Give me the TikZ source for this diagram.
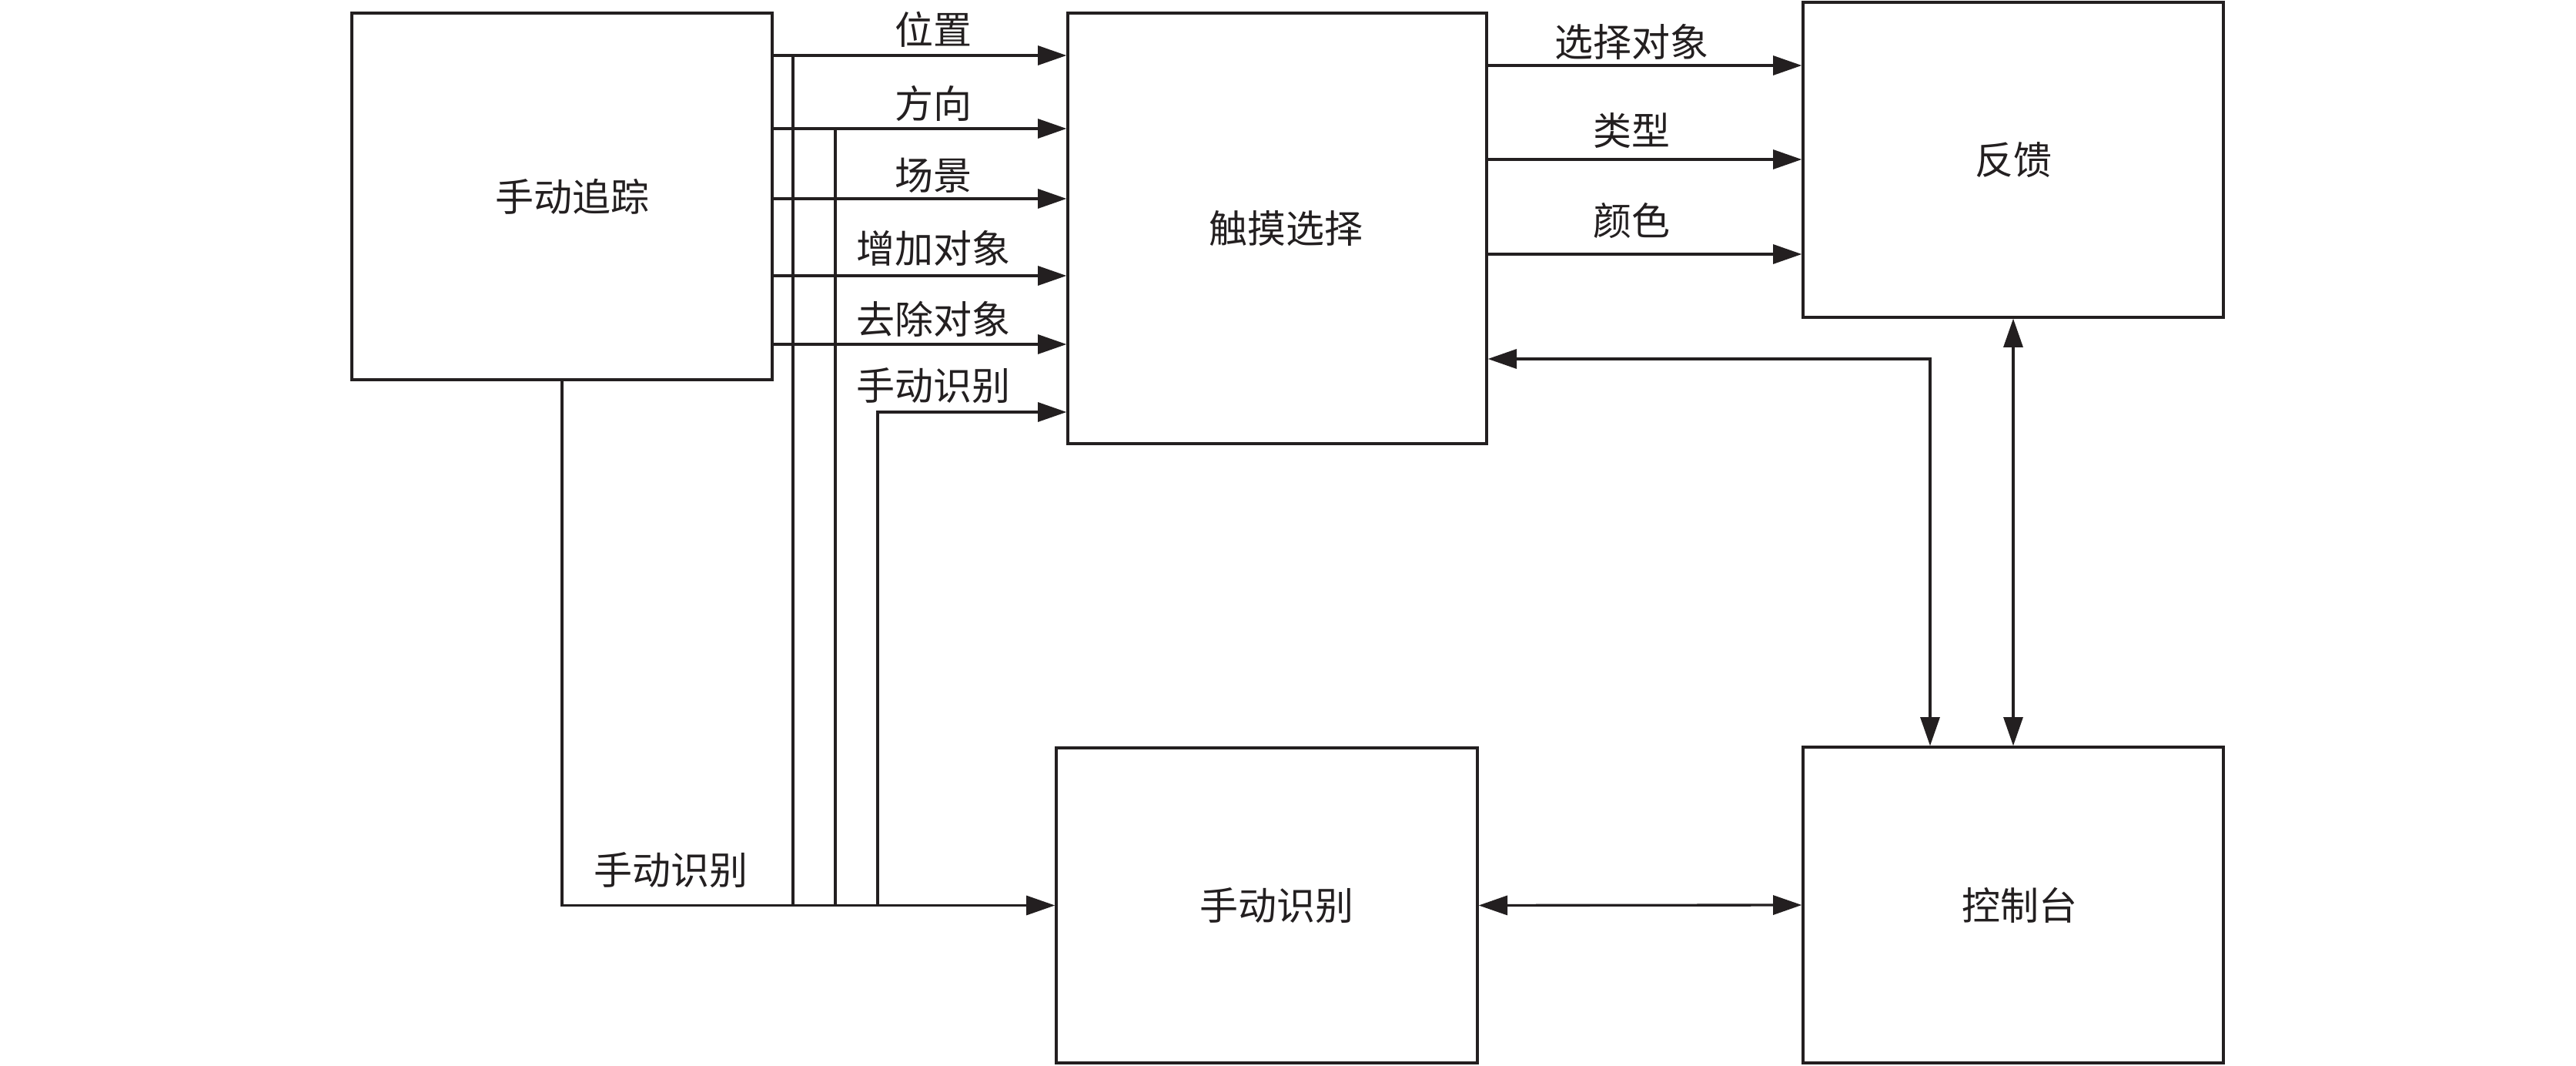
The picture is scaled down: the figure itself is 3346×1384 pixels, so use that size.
\documentclass[tikz,border=0pt]{standalone}
\usepackage{fontspec}
\newfontfamily\cjk{Noto Sans CJK SC}
\usetikzlibrary{arrows.meta}
\definecolor{ink}{HTML}{231F20}
\tikzset{
  box/.style={draw=ink, line width=1pt, rectangle, inner sep=0pt, text=ink, font=\cjk\fontsize{15}{18}\selectfont},
  lab/.style={inner sep=0pt, text=ink, font=\cjk\fontsize{15}{18}\selectfont},
  wire/.style={draw=ink, line width=1pt},
  arr/.style={wire, -{Triangle[length=11.2pt,width=7.5pt]}},
  darr/.style={wire, {Triangle[length=11.2pt,width=7.5pt]}-{Triangle[length=11.2pt,width=7.5pt]}}
}
\begin{document}
\begin{tikzpicture}[x=0.3pt,y=-0.3pt]
\fill[white] (0,0) rectangle (3346,1384);
\useasboundingbox (0,0) rectangle (3346,1384);

% boxes
\node[box, minimum width=163.8pt, minimum height=142.8pt] (track) at (730,255) {\hspace*{8pt}手动追踪};
\node[box, minimum width=163.2pt, minimum height=167.7pt] (touch) at (1659,296.5) {\hspace*{7pt}触摸选择};
\node[box, minimum width=163.8pt, minimum height=122.7pt] (fb) at (2615,207.5) {反馈};
\node[box, minimum width=164.1pt, minimum height=122.7pt] (rec) at (1645.5,1175.5) {\hspace*{7.5pt}手动识别};
\node[box, minimum width=163.8pt, minimum height=123pt] (con) at (2615,1175) {\hspace*{5pt}控制台};

% helper coordinates
\coordinate (y1) at (0,72);
\coordinate (y2) at (0,167);
\coordinate (y3) at (0,258);
\coordinate (y4) at (0,358);
\coordinate (y5) at (0,447);
\coordinate (y6) at (0,535);
\coordinate (v1) at (1030,0);
\coordinate (v2) at (1085,0);
\coordinate (v3) at (1140,0);
\coordinate (r1) at (0,85);
\coordinate (r2) at (0,207);
\coordinate (r3) at (0,330);
\coordinate (yf) at (0,466);
\coordinate (fbx) at (2507,0);

% left arrows
\draw[arr] (track.east |- y1) -- (touch.west |- y1);
\draw[arr] (track.east |- y2) -- (touch.west |- y2);
\draw[arr] (track.east |- y3) -- (touch.west |- y3);
\draw[arr] (track.east |- y4) -- (touch.west |- y4);
\draw[arr] (track.east |- y5) -- (touch.west |- y5);
\draw[wire] (v1 |- y1) -- (v1 |- rec.west);
\draw[wire] (v2 |- y2) -- (v2 |- rec.west);
\draw[arr] (v3 |- rec.west) -- (v3 |- y6) -- (touch.west |- y6);
\draw[arr] (track.south) -- (track.south |- rec.west) -- (rec.west);

% right arrows
\draw[arr] (touch.east |- r1) -- (fb.west |- r1);
\draw[arr] (touch.east |- r2) -- (fb.west |- r2);
\draw[arr] (touch.east |- r3) -- (fb.west |- r3);
\draw[darr] (touch.east |- yf) -| (con.north -| fbx);
\draw[darr] (fb.south) -- (con.north);
\draw[darr] (rec.east) -- (con.west);

% labels
\node[lab] (l1) at (1212,38) {位置};
\node[lab] (l2) at (1212,134) {方向};
\node[lab] (l3) at (1212,228) {场景};
\node[lab] (l4) at (1212,322) {增加对象};
\node[lab] (l5) at (1212,414) {去除对象};
\node[lab] (l6) at (1212,501) {手动识别};
\node[lab] (l7) at (871,1130) {手动识别};
\node[lab] (m1) at (2119,54) {选择对象};
\node[lab] (m2) at (2119,170) {类型};
\node[lab] (m3) at (2119,286) {颜色};
\end{tikzpicture}
\end{document}
